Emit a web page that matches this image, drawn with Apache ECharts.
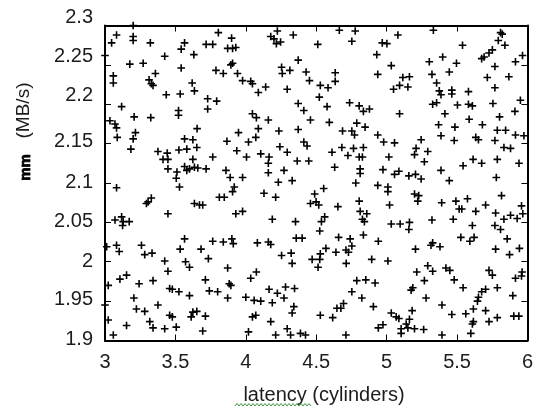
<!DOCTYPE html>
<html>
<head>
<meta charset="utf-8">
<script src="https://cdn.jsdelivr.net/npm/echarts@6/dist/echarts.min.js"></script>
<style>html,body{margin:0;padding:0;background:#fff;}#c{width:536px;height:412px;}</style>
</head>
<body>
<div id="c"></div>
<script>
// ---- data: [latency (cylinders), bandwidth (MB/s)] ----
const pointsTopLeft = [
[3.082,2.288],[3.200,2.300],[3.200,2.286],[3.200,2.281],[3.047,2.278],[3.322,2.278],[3.805,2.291],[3.899,2.284],
[3.565,2.278],[3.541,2.270],[3.718,2.276],[3.765,2.276],[3.871,2.271],[3.906,2.271],[3.929,2.272],[3.000,2.262],
[3.424,2.261],[3.631,2.263],[3.176,2.251],[3.271,2.252],[3.906,2.252],[3.894,2.250],[3.541,2.246],[3.788,2.243],
[3.840,2.239],[3.941,2.239],[3.059,2.236],[3.059,2.227],[3.358,2.239],[3.313,2.231],[3.329,2.226],[3.341,2.224],
[3.619,2.227],[3.635,2.217],[3.435,2.212],[3.534,2.213],[3.729,2.207],[3.793,2.204],[3.729,2.194],[3.118,2.197],
[3.522,2.192],[3.522,2.186],[3.207,2.184],[3.325,2.183],[3.035,2.179],[3.071,2.175],[3.082,2.170],[3.654,2.169],
[3.216,2.164],[3.200,2.156],[3.087,2.158],[3.948,2.164],[3.565,2.156],[3.624,2.155],[3.866,2.153],[3.184,2.143],
[3.525,2.142],[3.581,2.143],[3.652,2.145],[3.376,2.140],[3.442,2.138],[3.936,2.141],[3.765,2.133],[3.412,2.130],
[3.447,2.130],[3.624,2.130],[3.447,2.118],[3.565,2.121],[3.600,2.118],[3.635,2.120],[3.659,2.119],[3.718,2.118],
[3.859,2.116],[3.889,2.107],[3.511,2.114],[3.506,2.106],[3.581,2.116]
];
const pointsTopMiddle = [
[4.224,2.293],[4.664,2.294],[4.777,2.293],[4.177,2.286],[4.200,2.283],[4.217,2.277],[4.247,2.279],[4.337,2.288],
[4.511,2.276],[4.753,2.280],[4.930,2.263],[4.372,2.256],[4.254,2.247],[4.259,2.239],[4.313,2.243],[4.428,2.241],
[4.452,2.230],[4.635,2.240],[4.635,2.229],[4.937,2.238],[3.977,2.230],[4.035,2.229],[4.047,2.226],[4.141,2.222],
[4.089,2.215],[4.294,2.219],[4.529,2.224],[4.584,2.221],[4.522,2.209],[4.372,2.201],[4.412,2.192],[4.577,2.197],
[4.737,2.202],[4.805,2.198],[4.835,2.191],[4.878,2.194],[4.047,2.188],[4.075,2.183],[4.160,2.180],[4.459,2.180],
[4.593,2.177],[4.788,2.176],[4.847,2.171],[4.089,2.169],[4.071,2.158],[4.235,2.166],[4.372,2.168],[4.687,2.166],
[4.753,2.166],[4.772,2.161],[4.937,2.161],[4.019,2.152],[4.242,2.146],[4.412,2.152],[4.435,2.147],[4.682,2.145],
[4.765,2.144],[4.835,2.145],[4.612,2.139],[4.725,2.135],[4.106,2.137],[4.165,2.133],[4.160,2.125],[4.294,2.139],
[4.005,2.133],[4.365,2.128],[4.447,2.128],[4.805,2.133],[4.828,2.133],[4.631,2.120],[4.812,2.118],[4.812,2.112],
[4.271,2.116],[4.160,2.113],[3.977,2.107],[4.231,2.101],[4.329,2.103],[4.781,2.100]
];
const pointsTopRight = [
[5.332,2.294],[5.809,2.291],[5.821,2.289],[5.080,2.288],[4.969,2.278],[5.002,2.277],[5.539,2.275],[5.793,2.281],
[5.840,2.275],[5.398,2.260],[5.303,2.254],[5.496,2.252],[5.751,2.269],[5.727,2.265],[5.692,2.260],[5.675,2.258],
[5.033,2.249],[5.915,2.254],[5.769,2.248],[5.115,2.234],[5.162,2.235],[5.151,2.222],[5.092,2.224],[5.049,2.219],
[5.322,2.238],[5.445,2.241],[5.715,2.234],[5.868,2.235],[5.355,2.227],[5.374,2.217],[5.386,2.212],[5.463,2.218],
[5.463,2.213],[5.581,2.216],[5.769,2.221],[5.327,2.200],[5.355,2.202],[5.503,2.199],[5.581,2.200],[5.609,2.198],
[5.755,2.201],[5.092,2.188],[5.414,2.188],[5.802,2.184],[5.911,2.191],[5.586,2.181],[5.369,2.174],[5.485,2.171],
[5.680,2.174],[5.786,2.167],[5.845,2.167],[4.979,2.152],[5.056,2.151],[5.386,2.160],[5.245,2.155],[5.480,2.154],
[5.633,2.158],[5.652,2.155],[5.769,2.154],[5.915,2.161],[5.209,2.144],[5.292,2.140],[5.198,2.136],[5.833,2.145],
[5.880,2.144],[5.016,2.133],[5.268,2.127],[5.614,2.130],[5.675,2.125],[5.786,2.130],[5.543,2.122],[4.974,2.117],
[5.056,2.111],[5.087,2.115],[5.386,2.116],[5.158,2.109],[5.205,2.111],[5.245,2.105],[5.445,2.103],[5.779,2.107],
[5.965,2.262],[5.950,2.205],[5.975,2.160],[5.940,2.125]
];
const pointsBottomLeft = [
[3.082,2.094],[3.529,2.095],[3.918,2.095],[3.906,2.089],[3.329,2.081],[3.306,2.076],[3.294,2.074],[3.635,2.074],
[3.671,2.072],[3.694,2.072],[3.812,2.082],[3.847,2.082],[3.447,2.061],[3.929,2.061],[3.071,2.053],[3.118,2.057],
[3.129,2.051],[3.172,2.051],[3.125,2.046],[3.012,2.019],[3.082,2.021],[3.101,2.013],[3.259,2.021],[3.282,2.009],
[3.334,2.011],[3.565,2.029],[3.534,2.016],[3.682,2.016],[3.765,2.026],[3.840,2.025],[3.901,2.029],[3.911,2.023],
[3.424,2.001],[3.572,2.000],[3.600,1.993],[3.734,2.004],[3.447,1.988],[3.871,1.992],[3.106,1.978],[3.153,1.983],
[3.242,1.972],[3.341,1.976],[3.713,1.977],[3.882,1.972],[3.894,1.970],[3.023,1.970],[3.459,1.966],[3.478,1.965],
[3.525,1.962],[3.600,1.957],[3.741,1.963],[3.800,1.962],[3.205,1.954],[3.871,1.954],[3.000,1.945],[3.376,1.945],
[3.223,1.940],[3.282,1.937],[3.459,1.932],[3.478,1.930],[3.624,1.936],[3.652,1.937],[3.612,1.930],[3.713,1.931],
[3.023,1.926],[3.153,1.919],[3.318,1.924],[3.341,1.916],[3.424,1.915],[3.506,1.917],[3.694,1.912],[3.059,1.907]
];
const pointsBottomMiddle = [
[4.937,2.097],[4.129,2.087],[4.212,2.082],[4.553,2.093],[4.489,2.086],[4.459,2.074],[4.499,2.076],[4.518,2.072],
[4.654,2.070],[4.805,2.077],[4.812,2.064],[4.859,2.061],[4.828,2.054],[4.842,2.051],[3.977,2.064],[4.188,2.054],
[4.353,2.051],[4.560,2.057],[4.537,2.051],[4.525,2.039],[4.835,2.034],[4.659,2.031],[4.741,2.029],[4.753,2.020],
[4.941,2.026],[4.082,2.024],[4.160,2.025],[4.177,2.022],[4.358,2.030],[4.400,2.030],[4.569,2.017],[4.529,2.010],
[4.471,2.003],[4.525,2.003],[4.640,2.012],[4.711,2.015],[4.729,2.012],[4.254,2.008],[4.322,2.011],[4.329,1.998],
[4.713,1.998],[4.894,2.003],[4.513,1.993],[4.075,1.987],[4.035,1.979],[4.788,1.976],[4.852,1.977],[4.918,1.973],
[4.282,1.968],[4.346,1.966],[4.165,1.965],[4.224,1.960],[4.271,1.954],[4.753,1.962],[4.000,1.955],[4.059,1.951],
[4.106,1.950],[4.188,1.948],[4.824,1.954],[4.694,1.947],[4.647,1.941],[4.675,1.941],[4.906,1.943],[4.341,1.943],
[4.329,1.935],[4.529,1.932],[4.617,1.929],[4.047,1.930],[4.071,1.932],[4.177,1.924],[4.941,1.916],[4.294,1.915],
[4.318,1.907],[4.019,1.911],[4.212,1.907],[4.388,1.909],[4.424,1.907],[4.711,1.907]
];
const pointsBottomRight = [
[5.009,2.095],[5.009,2.089],[5.198,2.086],[5.228,2.084],[5.221,2.077],[5.021,2.072],[5.391,2.075],[5.492,2.077],
[5.574,2.080],[5.515,2.067],[5.534,2.067],[5.633,2.064],[5.703,2.072],[5.816,2.084],[5.774,2.062],[5.833,2.054],
[5.880,2.059],[5.927,2.055],[5.958,2.071],[5.967,2.061],[5.033,2.048],[5.096,2.048],[5.162,2.050],[5.158,2.041],
[5.322,2.053],[5.473,2.054],[5.609,2.046],[5.769,2.046],[5.809,2.041],[5.527,2.031],[5.591,2.026],[5.621,2.031],
[5.856,2.029],[5.327,2.024],[5.315,2.021],[5.379,2.019],[5.205,2.016],[5.774,2.016],[5.873,2.009],[5.943,2.017],
[5.009,2.001],[5.292,1.995],[5.327,1.988],[5.214,1.987],[5.421,1.992],[5.449,1.989],[5.727,1.989],[5.751,1.983],
[5.962,1.987],[5.958,1.982],[5.915,1.979],[5.268,1.976],[5.480,1.977],[5.186,1.967],[5.174,1.964],[5.543,1.967],
[5.703,1.965],[5.675,1.962],[5.652,1.955],[5.645,1.950],[5.786,1.967],[5.280,1.954],[5.896,1.957],[5.393,1.945],
[5.181,1.938],[5.033,1.935],[5.068,1.930],[5.087,1.928],[5.463,1.933],[5.562,1.934],[5.616,1.940],[5.703,1.938],
[5.903,1.931],[5.939,1.931],[5.786,1.929],[5.162,1.927],[5.139,1.921],[5.151,1.916],[4.974,1.920],[5.616,1.924],
[5.609,1.921],[5.727,1.924],[5.103,1.915],[5.103,1.909],[5.198,1.915],[5.263,1.914],[5.393,1.907],[5.598,1.909]
];
const xTickLabels = ['3','3.5','4','4.5','5','5.5','6'];
const yTickLabels = ['1.9','1.95','2','2.05','2.1','2.15','2.2','2.25','2.3'];
const xTitle = 'latency (cylinders)';
const yTitleMain = '(MB/s)';
const yTitlePrefix = 'mm';

const allPoints = [].concat(pointsTopLeft, pointsTopMiddle, pointsTopRight,
  pointsBottomLeft, pointsBottomMiddle, pointsBottomRight);

const FONT = '"Liberation Sans", Arial, sans-serif';
const TXT = '#1c1c1c';
const lift = [0.8, 1.8, 0.5, 1.2, 0.5, 2.2, 9, 8.4, 8];
const rich = {};
lift.forEach((l, i) => {
  rich['l' + i] = { fontSize: 20, fontFamily: FONT, color: TXT, padding: [0, 0, Math.round(l * 2), 0] };
});

const chart = echarts.init(document.getElementById('c'), null, { renderer: 'canvas' });
const axisLineStyle = { show: true, lineStyle: { color: '#000', width: 2 } };
const tick = { show: true, inside: true, length: 6, lineStyle: { color: '#000', width: 1 } };

const zig = [];
for (let x = 235, k = 0; x <= 311; x += 2, k++) zig.push([x, k % 2 ? 403.5 : 406]);

chart.setOption({
  animation: false,
  backgroundColor: '#fff',
  grid: { left: 105, right: 6, top: 25.5, bottom: 71.5, containLabel: false },
  xAxis: [
    { type: 'value', min: 3, max: 6, interval: 0.5, position: 'bottom',
      axisLine: axisLineStyle, axisTick: tick, splitLine: { show: false },
      axisLabel: { show: true, margin: 12, fontSize: 20, fontFamily: FONT, color: TXT,
        formatter: v => xTickLabels[Math.round((v - 3) / 0.5)] } },
    { type: 'value', min: 3, max: 6, interval: 0.5, position: 'top',
      axisLine: axisLineStyle, axisTick: tick, splitLine: { show: false }, axisLabel: { show: false } }
  ],
  yAxis: [
    { type: 'value', min: 1.9, max: 2.3, interval: 0.05, position: 'left',
      axisLine: axisLineStyle, axisTick: tick, splitLine: { show: false },
      axisLabel: { show: true, margin: 12, fontSize: 20, fontFamily: FONT, color: TXT, rich: rich,
        formatter: v => { const i = Math.round((v - 1.9) / 0.05); return '{l' + i + '|' + yTickLabels[i] + '}'; } } },
    { type: 'value', min: 1.9, max: 2.3, interval: 0.05, position: 'right',
      axisLine: axisLineStyle, axisTick: tick, splitLine: { show: false }, axisLabel: { show: false } }
  ],
  series: [{
    type: 'scatter',
    xAxisIndex: 0, yAxisIndex: 0,
    data: allPoints,
    symbol: 'path://M3,0H4.6V3H7.6V4.6H4.6V7.6H3V4.6H0V3H3Z',
    symbolSize: 7.6,
    itemStyle: { color: '#000', opacity: 1 },
    silent: true
  }],
  graphic: [
    { type: 'text', x: 324, y: 395,
      style: { text: xTitle, fontSize: 20, fontFamily: FONT, fill: TXT, align: 'center', verticalAlign: 'middle' } },
    { type: 'text', x: 24, y: 110.5, rotation: Math.PI / 2,
      style: { text: yTitleMain, fontSize: 19, fontFamily: FONT, fill: TXT, align: 'center', verticalAlign: 'middle' } },
    { type: 'text', x: 25.5, y: 167.5, rotation: Math.PI / 2,
      style: { text: yTitlePrefix, fontSize: 15, fontWeight: 'bold', fontFamily: FONT, fill: '#000',
        stroke: '#000', lineWidth: 0.8, align: 'center', verticalAlign: 'middle' } },
    { type: 'polyline', shape: { points: zig }, style: { stroke: '#3c9a3c', lineWidth: 1, fill: null } }
  ]
});
</script>
</body>
</html>
